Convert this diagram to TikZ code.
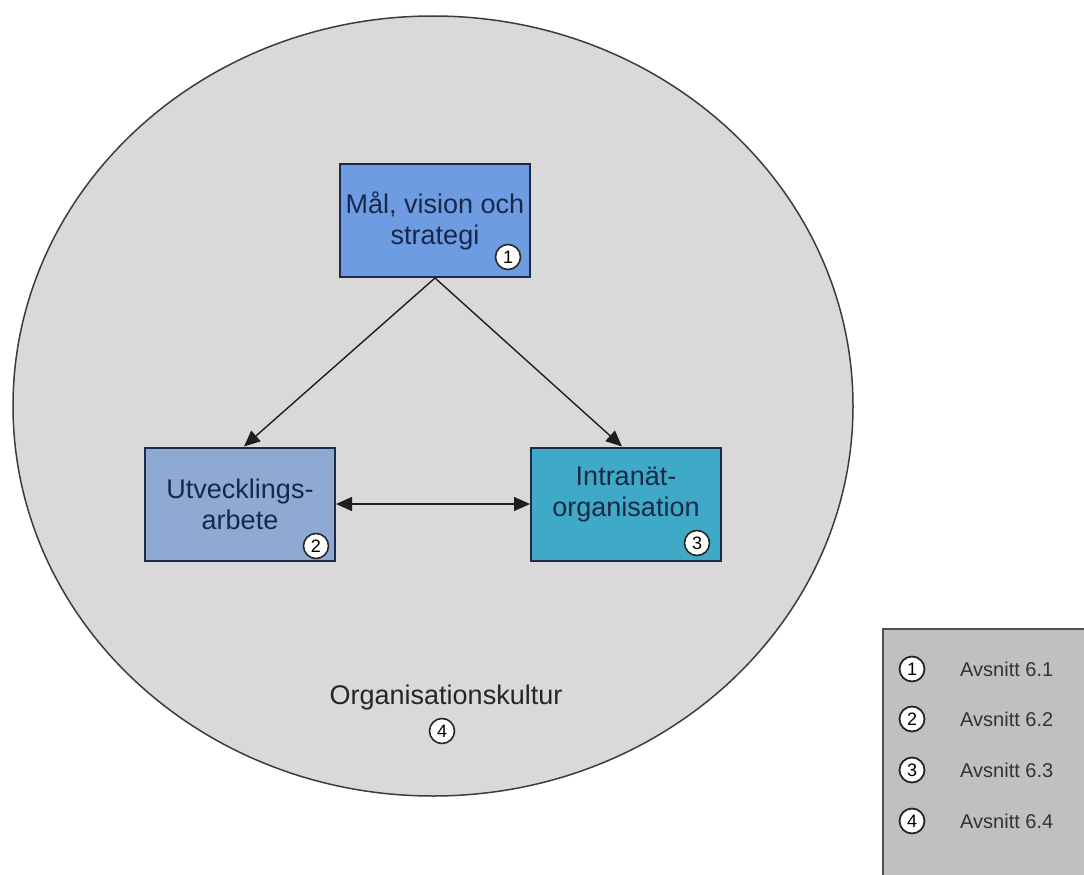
\documentclass[tikz,border=0pt]{standalone}
\usepackage{fontspec}
\setmainfont{Liberation Sans}
\usetikzlibrary{arrows.meta,shapes.geometric}
\definecolor{ellfill}{RGB}{217,217,217}
\definecolor{ellline}{RGB}{60,60,60}
\definecolor{goalfill}{RGB}{110,156,226}
\definecolor{devfill}{RGB}{142,170,210}
\definecolor{intrafill}{RGB}{62,170,200}
\definecolor{boxline}{RGB}{30,42,70}
\definecolor{boxtext}{RGB}{25,40,72}
\definecolor{legfill}{RGB}{192,192,192}
\definecolor{legline}{RGB}{80,80,80}
\definecolor{arrline}{RGB}{30,30,30}
\tikzset{
  box/.style={draw=boxline, line width=2pt, minimum width=190, minimum height=113,
    align=center, text=boxtext, inner sep=0pt,
    font=\fontsize{27}{31}\selectfont},
  badge/.style={circle, draw=black!85, line width=1.6pt, fill=white, minimum size=25,
    inner sep=0pt, font=\fontsize{18}{18}\selectfont},
  legbadge/.style={circle, draw=black!85, line width=1.8pt, fill=white, minimum size=25,
    inner sep=0pt, font=\fontsize{18}{18}\selectfont},
  legtext/.style={anchor=west, inner sep=0pt, text=black!80, font=\fontsize{20}{20}\selectfont},
  arr/.style={draw=arrline, line width=1.4pt, -{Triangle[length=16pt,width=14pt]}},
  darr/.style={draw=arrline, line width=1.4pt, {Triangle[length=16pt,width=14pt]}-{Triangle[length=16pt,width=14pt]}},
}
\begin{document}
\begin{tikzpicture}[x=1pt,y=-1pt]
\useasboundingbox (0,0) rectangle (1084,875);
% outer ellipse
\node[ellipse, draw=ellline, line width=1.5pt, fill=ellfill, minimum width=840, minimum height=780, inner sep=0pt] (culture) at (433,406) {};
% boxes
\node[box, fill=goalfill] (goal) at (435,220.5) {Mål, vision och\\strategi};
\node[box, fill=devfill] (dev) at (240,504) {Utvecklings-\\arbete};
\node[box, fill=intrafill] (intra) at (626,504) {Intranät-\\organisation\\[-7pt]\mbox{}};
% connectors
\draw[arr] (goal.south) -- ([xshift=4]dev.north);
\draw[arr] (goal.south) -- ([xshift=-4]intra.north);
\draw[darr] (dev.east) -- (intra.west);
% badges
\node[badge] (b1) at (508,257) {1};
\node[badge] (b2) at (316,546) {2};
\node[badge] (b3) at (697,543) {3};
\node[font=\fontsize{27}{27}\selectfont, text=black!85, inner sep=0pt] (cultlabel) at (446,698) {Organisationskultur};
\node[badge] (b4) at (442,731) {4};
% legend
\begin{scope}
\clip (0,0) rectangle (1084,875);
\node[draw=legline, line width=2pt, fill=legfill, minimum width=230, minimum height=270, inner sep=0pt, anchor=north west] (legend) at (882,628) {};
\end{scope}
\node[legbadge] (l1) at (912,669) {1};
\node[legbadge] (l2) at (912,719) {2};
\node[legbadge] (l3) at (912,770) {3};
\node[legbadge] (l4) at (912,821) {4};
\node[legtext] (t1) at (960,669) {Avsnitt 6.1};
\node[legtext] (t2) at (960,719) {Avsnitt 6.2};
\node[legtext] (t3) at (960,770) {Avsnitt 6.3};
\node[legtext] (t4) at (960,821) {Avsnitt 6.4};
\end{tikzpicture}
\end{document}
